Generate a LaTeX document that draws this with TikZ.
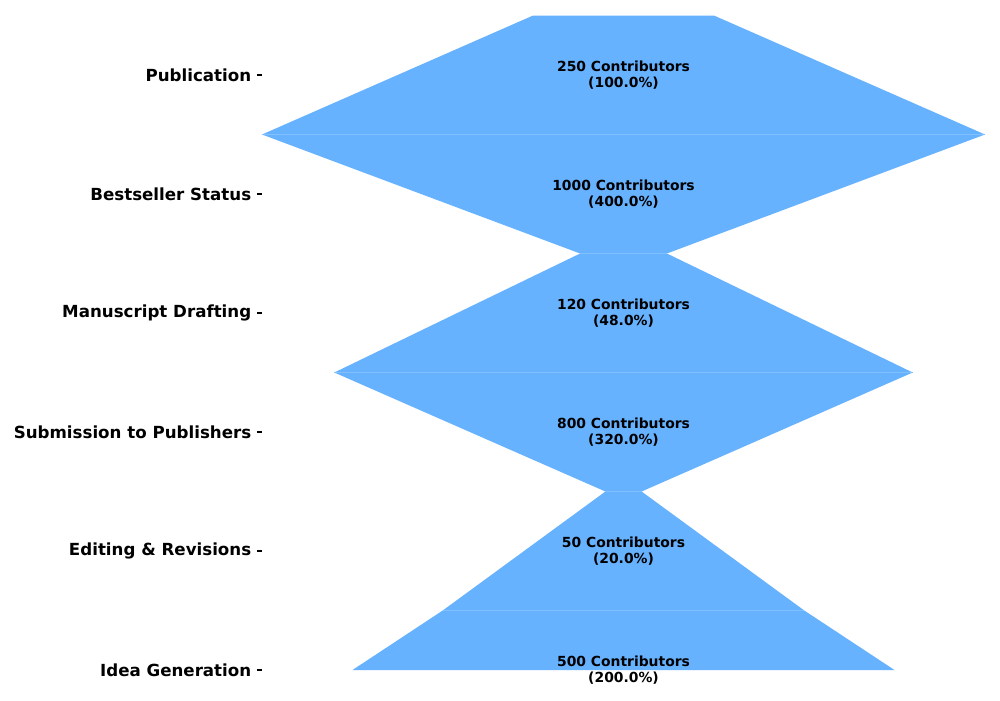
\documentclass[tikz,border=0pt]{standalone}
\usepackage{fontspec}
\setmainfont{DejaVu Sans}
\definecolor{fun}{RGB}{102,178,255}
\definecolor{funedge}{RGB}{128,192,255}
\tikzset{
  stage/.style={fill=fun, draw=none},
  seam/.style={draw=funedge, line width=0.6pt},
  lab/.style={font=\bfseries\fontsize{12}{14}\selectfont, anchor=east, inner sep=0pt},
  val/.style={font=\bfseries\fontsize{10}{11.5}\selectfont, align=center, inner sep=0pt},
  tickmark/.style={draw=black, line width=0.8pt}
}
\begin{document}
\begin{tikzpicture}[x=0.72pt,y=-0.72pt]
\useasboundingbox (0,0) rectangle (1000,700);
% stages
\fill[stage] (533.1,15.5) -- (713.9,15.5) -- (985,134.5) -- (262,134.5) -- cycle;
\fill[stage] (262,134.5) -- (985,134.5) -- (666.9,253.5) -- (580.1,253.5) -- cycle;
\fill[stage] (580.1,253.5) -- (666.9,253.5) -- (912.7,372.5) -- (334.3,372.5) -- cycle;
\fill[stage] (334.3,372.5) -- (912.7,372.5) -- (641.6,491.5) -- (605.4,491.5) -- cycle;
\fill[stage] (605.4,491.5) -- (641.6,491.5) -- (804.3,610.5) -- (442.7,610.5) -- cycle;
\fill[stage] (442.7,610.5) -- (804.3,610.5) -- (894.5,670) -- (352.5,670) -- cycle;
% seams
\draw[seam] (262,134.5) -- (985,134.5);
\draw[seam] (580.1,253.5) -- (666.9,253.5);
\draw[seam] (334.3,372.5) -- (912.7,372.5);
\draw[seam] (605.4,491.5) -- (641.6,491.5);
\draw[seam] (442.7,610.5) -- (804.3,610.5);
% values
\node[val] (v1) at (623.5,75) {250 Contributors\\(100.0\%)};
\node[val] (v2) at (623.5,194) {1000 Contributors\\(400.0\%)};
\node[val] (v3) at (623.5,313) {120 Contributors\\(48.0\%)};
\node[val] (v4) at (623.5,432) {800 Contributors\\(320.0\%)};
\node[val] (v5) at (623.5,551) {50 Contributors\\(20.0\%)};
\node[val] (v6) at (623.5,670) {500 Contributors\\(200.0\%)};
% axis labels and ticks
\foreach \n/\y/\t in {l1/75/Publication, l2/194/Bestseller Status, l3/313/Manuscript Drafting, l4/432/Submission to Publishers, l5/551/Editing \& Revisions, l6/670/Idea Generation}{
  \coordinate (\n a) at (256.8,\y);
  \coordinate (\n b) at (261.7,\y);
  \draw[tickmark] (\n a) -- (\n b);
  \node[lab] (\n) at (251.5,\y) {\t};
}
\end{tikzpicture}
\end{document}
